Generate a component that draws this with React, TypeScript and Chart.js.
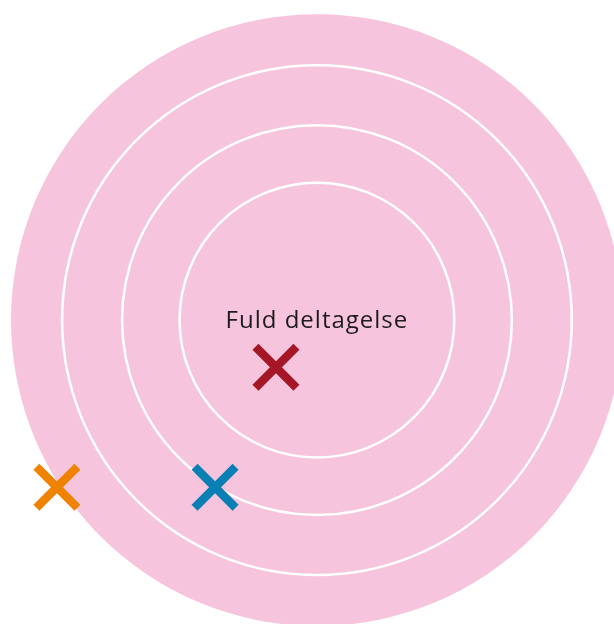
import React, { useEffect, useRef } from "react";
import { Chart, registerables } from "chart.js";

Chart.register(...registerables);

// Concentric participation rings (relative to the outer disc radius)
const ringRadii = [1.0, 0.833, 0.637, 0.449];
const centerLabel = ["Fuld deltagelse"];

// Marks placed on the rings (x, y in ring units, centre = 0,0)
const markNames = ["Rød", "Blå", "Orange"];
const markX = [-0.134, -0.333, -0.85];
const markY = [-0.154, -0.546, -0.546];
const markColors = ["#a51626", "#0a7fb4", "#ef8200"];

const PINK = "#f6c5dd";

const ringsPlugin = {
  id: "rings",
  beforeDatasetsDraw(chart: any) {
    const { ctx, scales } = chart;
    const xs = scales.x;
    const ys = scales.y;
    const cx = xs.getPixelForValue(0);
    const cy = ys.getPixelForValue(0);
    const unit = xs.getPixelForValue(1) - cx;
    ctx.save();
    ringRadii.forEach((r, i) => {
      ctx.beginPath();
      ctx.arc(cx, cy, r * unit, 0, Math.PI * 2);
      if (i === 0) {
        ctx.fillStyle = PINK;
        ctx.fill();
      } else {
        ctx.strokeStyle = "#ffffff";
        ctx.lineWidth = 2.5;
        ctx.stroke();
      }
    });
    ctx.fillStyle = "#1e1b1c";
    ctx.font = "24px 'Open Sans', sans-serif";
    (ctx as any).letterSpacing = "1px";
    ctx.textAlign = "center";
    ctx.textBaseline = "middle";
    ctx.fillText(centerLabel[0], cx, cy + 1);
    ctx.restore();
  },
};

export default function App() {
  const ref = useRef<HTMLCanvasElement>(null);
  useEffect(() => {
    document.body.style.margin = "0";
    const chart = new Chart(ref.current!, {
      type: "scatter",
      data: {
        labels: markNames,
        datasets: [
          {
            label: "Markeringer",
            data: markX.map((x, i) => ({ x, y: markY[i] })),
            pointStyle: "crossRot",
            pointRadius: 29,
            pointHoverRadius: 29,
            pointBorderWidth: 8.5,
            pointHoverBorderWidth: 8.5,
            pointBorderColor: markColors,
            pointBackgroundColor: markColors,
            clip: false,
          } as any,
        ],
      },
      options: {
        animation: false,
        responsive: false,
        events: [],
        layout: { padding: 0, autoPadding: false },
        plugins: { legend: { display: false }, tooltip: { enabled: false } },
        scales: {
          x: { type: "linear", display: false, min: -1.036, max: 0.971 },
          y: { type: "linear", display: false, min: -0.993, max: 1.046 },
        },
      },
      plugins: [ringsPlugin],
    });
    return () => chart.destroy();
  }, []);
  return (
    <div style={{ width: 614, height: 624 }}>
      <canvas ref={ref} width={614} height={624} />
    </div>
  );
}
